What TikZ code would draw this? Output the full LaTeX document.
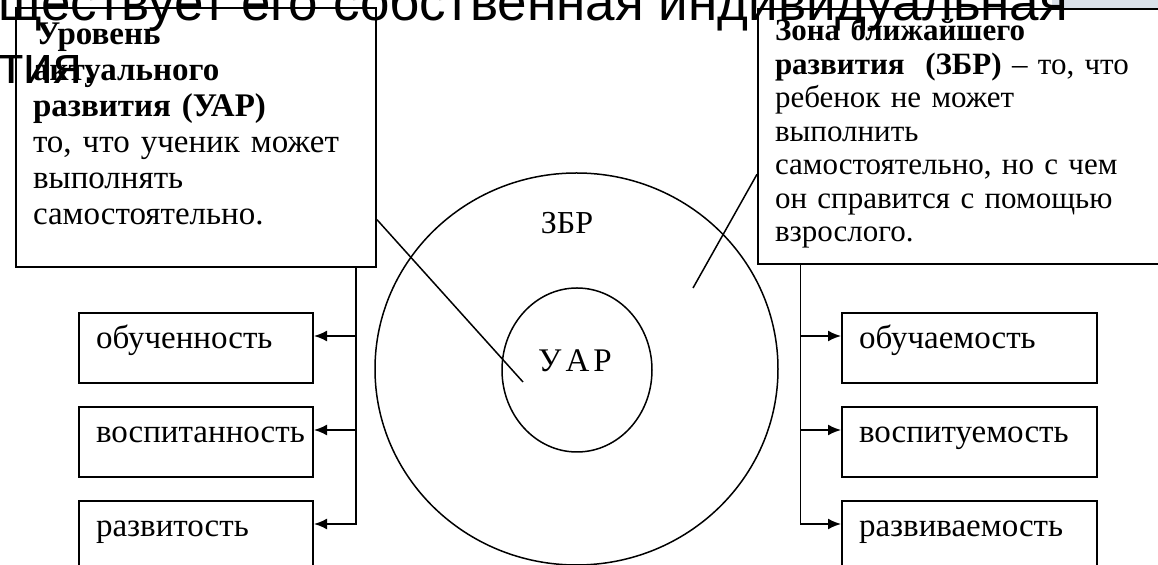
\documentclass[tikz,border=0pt]{standalone}
\usepackage{fontspec}
\setmainfont{Liberation Serif}
\newfontfamily\headfont{Liberation Sans}
\usetikzlibrary{positioning,calc,shapes.geometric,arrows.meta}
\definecolor{stripgray}{RGB}{218,225,234}

\begin{document}
\begin{tikzpicture}[x=0.5pt, y=-0.5pt, node distance=11pt,
    bigbox/.style={draw, line width=1pt, rectangle, anchor=north west, align=left, inner xsep=8.5pt},
    smallbox/.style={draw, line width=1pt, rectangle, anchor=north west, align=left, inner xsep=8.5pt, inner ysep=0pt,
        text height=18pt, text depth=17pt, font=\fontsize{16.5}{18}\selectfont},
    ring/.style={draw, ellipse, line width=0.75pt, inner sep=0pt},
    branch/.style={line width=0.9pt, -{Latex[length=6.5pt,width=5.5pt]}}]
    \useasboundingbox (0,0) rectangle (1158,565);
    \clip (0,0) rectangle (1158,565);
    \fill[stripgray] (1052,0) rectangle (1158,8);

    % the two explanation boxes
    \node[bigbox, text width=163pt, inner ysep=7.5pt, text height=11pt, text depth=103.5pt,
        font=\fontsize{16.5}{18}\selectfont] (lbox) at (15,7)
        {\textbf{\kern1.5pt Уровень}\\\textbf{актуального}\\\textbf{развития (УАР)}\\то, что ученик может\\выполнять\\самостоятельно.};
    \node[bigbox, text width=183.5pt, inner ysep=5.75pt, text height=10.25pt, text depth=105.75pt,
        font=\fontsize{15.5}{16.75}\selectfont] (rbox) at (757,8)
        {\textbf{Зона ближайшего}\\\textbf{развития\ \ (ЗБР)} -- то, что\\ребенок не может\\выполнить\\самостоятельно, но с чем\\он справится с помощью\\взрослого.};

    % zones
    \node[ring, minimum width=201.5pt, minimum height=196pt] (zbr) at (576.5,369) {};
    \node[ring, minimum width=75pt, minimum height=82pt] (uar) at (577,370) {};
    \node[font=\fontsize{16}{18}\selectfont] (zbrname) at (567,223) {ЗБР};
    \node[font=\fontsize{16.5}{18}\selectfont] (uarname) at (575,361) {У\kern2pt А\kern2pt Р};

    \coordinate (uarpt) at (523,382);
    \coordinate (zbrpt) at (693,288);
    \draw[line width=0.75pt] ($(lbox.north east)!0.815!(lbox.south east)$) -- (uarpt);
    \draw[line width=0.75pt] ($(rbox.north west)!0.647!(rbox.south west)$) -- (zbrpt);

    % results
    \node[smallbox, text width=100pt] (obuch) at (78,312) {обученность};
    \node[smallbox, text width=100pt, below=of obuch] (vospit) {воспитанность};
    \node[smallbox, text width=100pt, below=of vospit] (razvit) {развитость};
    \node[smallbox, text width=110.5pt] (obuchaem) at (841,312) {обучаемость};
    \node[smallbox, text width=110.5pt, below=of obuchaem] (vospituem) {воспитуемость};
    \node[smallbox, text width=110.5pt, below=of vospituem] (razvivaem) {развиваемость};

    \coordinate (ltop) at ($(lbox.south west)!0.942!(lbox.south east)$);
    \coordinate (rtop) at ($(rbox.south west)!0.108!(rbox.south east)$);
    \draw[branch] (ltop) |- ([yshift=6pt]obuch.east);
    \draw[branch] (ltop) |- ([yshift=6pt]vospit.east);
    \draw[branch] (ltop) |- ([yshift=6pt]razvit.east);
    \draw[branch] (rtop) |- ([yshift=6pt]obuchaem.west);
    \draw[branch] (rtop) |- ([yshift=6pt]vospituem.west);
    \draw[branch] (rtop) |- ([yshift=6pt]razvivaem.west);

    % slide heading over the picture
    \node[anchor=base west, inner sep=0pt, font=\headfont\fontsize{26.5}{32}\selectfont] (head) at (-2,21)
        {ществует его собственная индивидуальная};
    \node[anchor=base west, inner sep=0pt, font=\headfont\fontsize{26.5}{32}\selectfont] (headend) at (-1,84) {тия.};
\end{tikzpicture}
\end{document}
